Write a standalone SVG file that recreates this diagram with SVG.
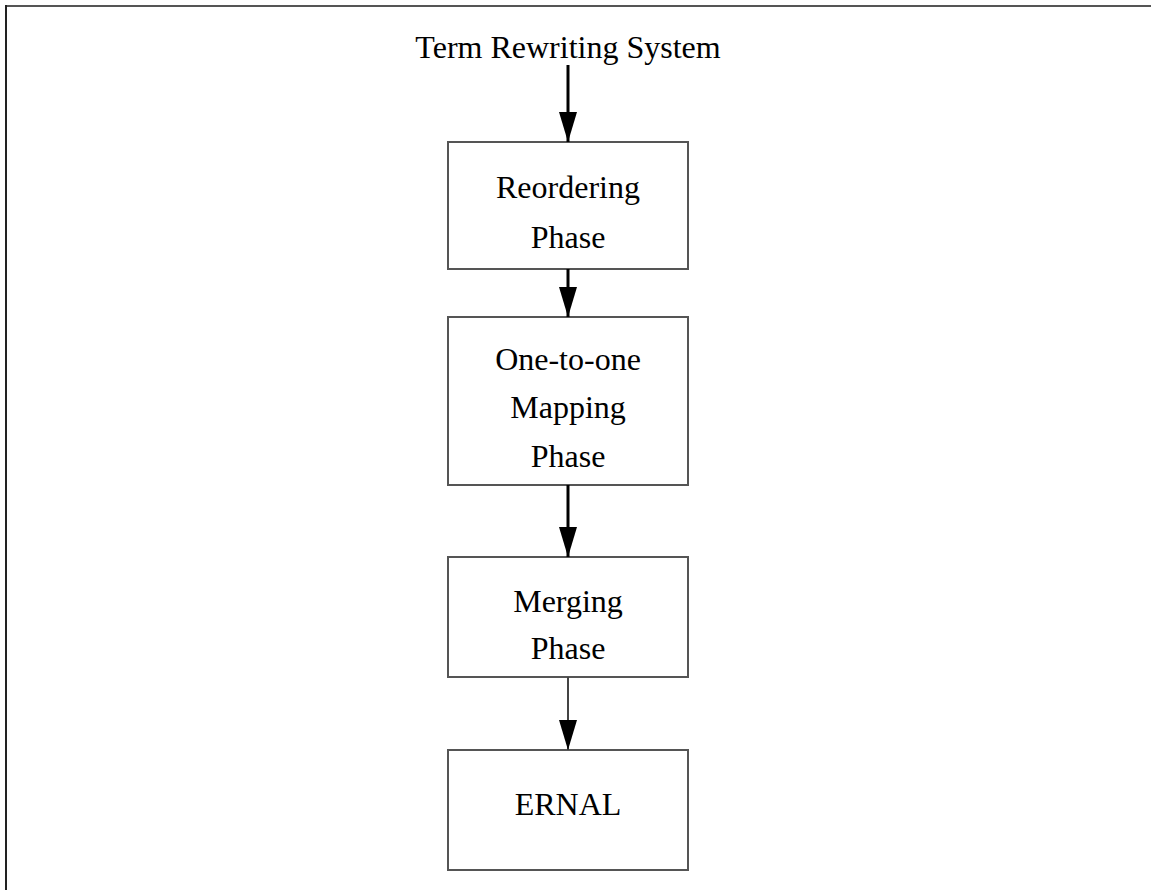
<svg xmlns="http://www.w3.org/2000/svg" width="1151" height="890" viewBox="0 0 1151 890">
  <style>
    .box { fill: #ffffff; stroke: #555555; stroke-width: 2; }
    .lbl { font-family: "Liberation Serif", "Times New Roman", serif; font-size: 32px; fill: #000000; text-anchor: middle; }
    .flow { stroke: #000000; stroke-width: 3; fill: none; marker-end: url(#head); }
    .flow.thin { stroke: #444444; stroke-width: 2; }
  </style>
  <defs>
    <marker id="head" markerUnits="userSpaceOnUse" markerWidth="31" markerHeight="18" refX="30" refY="9" orient="auto">
      <path d="M0,0 L30,9 L0,18 Z" fill="#000000"/>
    </marker>
  </defs>
  <rect width="1151" height="890" fill="#ffffff"/>
  <!-- page frame (only top and left edges fall inside the page) -->
  <line x1="5" y1="6" x2="1151" y2="6" stroke="#555555" stroke-width="2"/>
  <line x1="6" y1="5" x2="6" y2="890" stroke="#222222" stroke-width="2"/>

  <g id="input">
    <text class="lbl" x="568" y="58">Term Rewriting System</text>
  </g>

  <g id="reordering">
    <rect class="box" x="448" y="142" width="240" height="127"/>
    <text class="lbl" x="568" y="198">Reordering</text>
    <text class="lbl" x="568" y="248">Phase</text>
  </g>

  <g id="mapping">
    <rect class="box" x="448" y="317" width="240" height="168"/>
    <text class="lbl" x="568" y="370">One-to-one</text>
    <text class="lbl" x="568" y="418">Mapping</text>
    <text class="lbl" x="568" y="467">Phase</text>
  </g>

  <g id="merging">
    <rect class="box" x="448" y="557" width="240" height="120"/>
    <text class="lbl" x="568" y="612">Merging</text>
    <text class="lbl" x="568" y="659">Phase</text>
  </g>

  <g id="ernal">
    <rect class="box" x="448" y="750" width="240" height="120"/>
    <text class="lbl" x="568" y="815">ERNAL</text>
  </g>

  <g id="connectors">
    <path class="flow" d="M568,65 L568,142"/>
    <path class="flow" d="M568,269 L568,317"/>
    <path class="flow" d="M568,485 L568,557"/>
    <path class="flow thin" d="M568,677 L568,750"/>
  </g>
</svg>
